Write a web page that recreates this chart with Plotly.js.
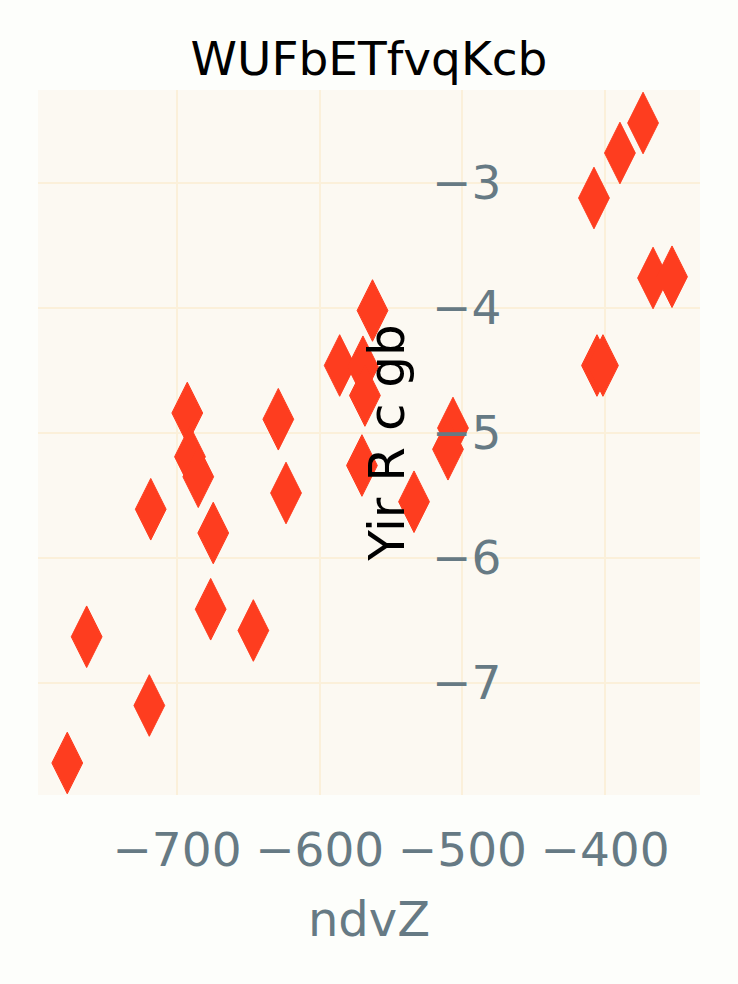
<!DOCTYPE html>
<html>
<head>
<meta charset="utf-8">
<script src="https://cdn.plot.ly/plotly-3.0.1.min.js"></script>
<style>html,body{margin:0;padding:0;background:#fdfefb;}</style>
</head>
<body>
<div id="chart" style="width:738px;height:984px;"></div>
<script>
const xValues = [-776.9, -763.3, -719.4, -718.4, -692.8, -690.9, -685.1, -674.6, -676.4, -646.5,
  -629.0, -623.6, -586.0, -563.0, -569.7, -568.3, -570.4, -533.9, -506.6, -510.1,
  -407.8, -366.4, -353.1, -405.7, -401.5, -373.4, -389.6];
const yValues = [-7.64, -6.63, -7.18, -5.61, -4.84, -5.19, -5.35, -5.80, -6.41, -6.58,
  -4.89, -5.48, -4.46, -4.02, -4.47, -4.70, -5.26, -5.55, -4.96, -5.13,
  -3.12, -3.76, -3.75, -4.46, -4.46, -2.52, -2.76];
const xTicks = [-700, -600, -500, -400];
const yTicks = [-3, -4, -5, -6, -7];

const tickColor = '#667a84';
const trace = {
  type: 'scatter', mode: 'markers', x: xValues, y: yValues,
  marker: {symbol: 'diamond-tall', size: 44, color: '#fe3d1f', line: {width: 1, color: '#fe3d1f'}},
  hoverinfo: 'skip'
};
const layout = {
  width: 738, height: 984,
  paper_bgcolor: '#fdfefb', plot_bgcolor: '#fcf9f2',
  margin: {l: 38, r: 38, t: 90, b: 189},
  font: {family: 'DejaVu Sans', size: 48, color: tickColor},
  showlegend: false,
  title: {text: 'WUFbETfvqKcb', font: {family: 'DejaVu Sans', size: 47, color: '#000000'},
    x: 0.5, xanchor: 'center', y: 0.94, yanchor: 'middle', yref: 'container'},
  xaxis: {
    range: [-797.4, -333.5], tickvals: xTicks, ticktext: xTicks.map(v => '\u2212' + Math.abs(v)),
    showgrid: true, gridcolor: '#fbf0da', gridwidth: 2, zeroline: false, showline: false, ticks: '',
    ticklabelstandoff: 23,
    tickfont: {size: 47, color: tickColor},
    title: {text: 'ndvZ', font: {size: 48, color: tickColor}, standoff: 26}
  },
  yaxis: {
    range: [-7.896, -2.256], tickvals: yTicks, ticktext: yTicks.map(v => '\u2212' + Math.abs(v)),
    anchor: 'free', position: 0.7, side: 'left',
    showgrid: true, gridcolor: '#fbf0da', gridwidth: 2, zeroline: false, showline: false, ticks: '',
    tickfont: {size: 47, color: tickColor},
    title: {text: 'Yir R c gb', font: {size: 50, color: '#000000'}, standoff: 10}
  }
};
Plotly.newPlot('chart', [trace], layout, {staticPlot: true, displayModeBar: false});
</script>
</body>
</html>
